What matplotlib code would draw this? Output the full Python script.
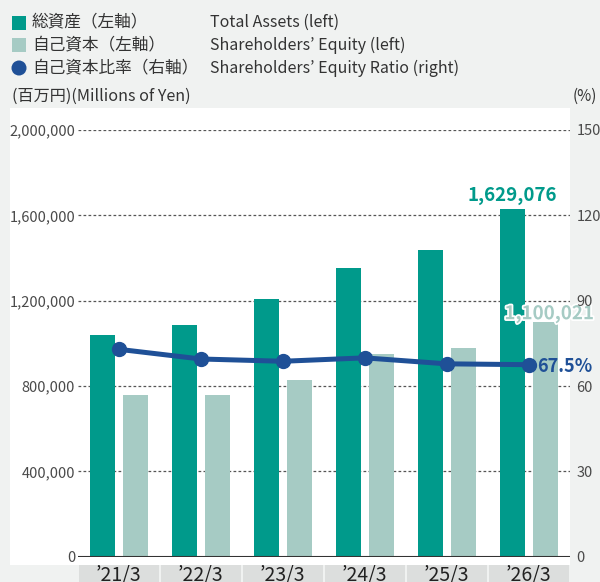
import matplotlib

matplotlib.use("Agg")
import matplotlib.pyplot as plt
import matplotlib.patheffects as pe
from matplotlib.patches import Rectangle, Circle
from matplotlib.transforms import blended_transform_factory
import numpy as np

plt.rcParams['font.family'] = ['Noto Sans CJK JP', 'DejaVu Sans']

# Данные (читаются с картинки)
years = ["’21/3", "’22/3", "’23/3", "’24/3", "’25/3", "’26/3"]
total_assets = [1038000, 1085000, 1207000, 1351000, 1437000, 1629076]
equity = [757000, 757000, 828000, 949000, 978000, 1100021]
equity_ratio = [72.9, 69.5, 68.7, 69.9, 67.8, 67.5]

left_ticks = [0, 400000, 800000, 1200000, 1600000, 2000000]
right_ticks = [0, 30, 60, 90, 120, 150]

legend_jp = ["総資産（左軸）", "自己資本（左軸）", "自己資本比率（右軸）"]
legend_en = ["Total Assets (left)", "Shareholders’ Equity (left)",
             "Shareholders’ Equity Ratio (right)"]

C_TOTAL = "#009a8b"
C_EQUITY = "#a6cbc4"
C_RATIO = "#1f5097"
C_BG = "#f0f2f1"
C_TEXT = "#333333"
C_TICK = "#4a4a4a"

W, H = 600, 582


def fy(y):
    return 1 - y / H


fig = plt.figure(figsize=(W / 100, H / 100), dpi=100, facecolor=C_BG)

# фоновый слой в пикселях
bg = fig.add_axes([0, 0, 1, 1], zorder=-5)
bg.set_xlim(0, W)
bg.set_ylim(H, 0)
bg.axis("off")
bg.add_patch(Rectangle((10, 108), 560, 457, color="white", lw=0))

# легенда
bg.add_patch(Rectangle((12, 16), 14, 14, color=C_TOTAL, lw=0))
bg.add_patch(Rectangle((12, 38), 14, 14, color=C_EQUITY, lw=0))
bg.add_patch(Circle((19, 68), 7.5, color=C_RATIO, lw=0))
for i, (jp, en) in enumerate(zip(legend_jp, legend_en)):
    yy = [22, 45, 68][i]
    bg.text(32, yy, jp, fontsize=12, color=C_TEXT, va="center", ha="left")
    bg.text(210, yy, en, fontsize=11.5, color=C_TEXT, va="center", ha="left")

bg.text(12, 96, "(百万円)(Millions of Yen)", fontsize=11.6, color=C_TEXT,
        va="center", ha="left")
bg.text(597, 96, "(%)", fontsize=11, color=C_TEXT, va="center", ha="right")

# основной график
x0, x1 = 77.9, 569.6
y0, y1 = 556.7, 130
ax = fig.add_axes([x0 / W, fy(y0), (x1 - x0) / W, (y0 - y1) / H])
ax.patch.set_alpha(0)
x = np.arange(len(years))
bw = 0.305
off = 0.2

ax.bar(x - off, total_assets, width=bw, color=C_TOTAL, zorder=3)
ax.bar(x + off, equity, width=bw, color=C_EQUITY, zorder=3)

ax.set_xlim(-0.5, len(years) - 0.5)
ax.set_ylim(0, 2000000)
ax.set_yticks(left_ticks)
ax.set_yticklabels([f"{v:,}" for v in left_ticks], fontsize=10.5, color=C_TICK)
ax.tick_params(axis="y", length=0, pad=2)
ax.set_xticks([])
for v in left_ticks[1:]:
    ax.axhline(v, color="#555555", lw=0.9, ls=(0, (2.2, 1.8)), zorder=1)
ax.axhline(0, color="#333333", lw=1.5, zorder=4)
for s in ax.spines.values():
    s.set_visible(False)

# подписи категорий в серых плашках
tr = blended_transform_factory(ax.transData, fig.transFigure)
for i, lab in enumerate(years):
    ax.add_patch(Rectangle((i - 0.488, 0), 0.976, (H - 565) / H,
                           transform=tr, color="#dcdedd", lw=0, clip_on=False))
    ax.text(i, fy(565), lab, transform=tr, fontsize=14, color="#222222",
            ha="center", va="top", clip_on=False)

ax.annotate(f"{total_assets[-1]:,}", (x[-1] - off, total_assets[-1]),
            xytext=(0, 3), textcoords="offset points", ha="center", va="bottom",
            fontsize=13.5, fontweight="bold", color=C_TOTAL, annotation_clip=False)
ax.annotate(f"{equity[-1]:,}", (x[-1] + off, equity[-1]),
            xytext=(3, -1), textcoords="offset points", ha="center", va="bottom",
            fontsize=13.5, fontweight="bold", color=C_EQUITY, annotation_clip=False,
            path_effects=[pe.withStroke(linewidth=2.5, foreground="white")])

# правая ось - коэффициент
ax2 = ax.twinx()
ax2.set_ylim(0, 150)
ax2.set_yticks(right_ticks)
ax2.set_yticklabels([str(v) for v in right_ticks], fontsize=10.5, color=C_TICK)
ax2.tick_params(axis="y", length=0, pad=5)
for s in ax2.spines.values():
    s.set_visible(False)
ax2.plot(x, equity_ratio, color=C_RATIO, lw=3.6, marker="o", markersize=10,
         zorder=5)
ax2.annotate(f"{equity_ratio[-1]}%", (x[-1], equity_ratio[-1]),
             xytext=(6, -1), textcoords="offset points", ha="left", va="center",
             fontsize=13, fontweight="bold", color=C_RATIO, annotation_clip=False)

fig.savefig("out.png", dpi=100, facecolor=C_BG)
